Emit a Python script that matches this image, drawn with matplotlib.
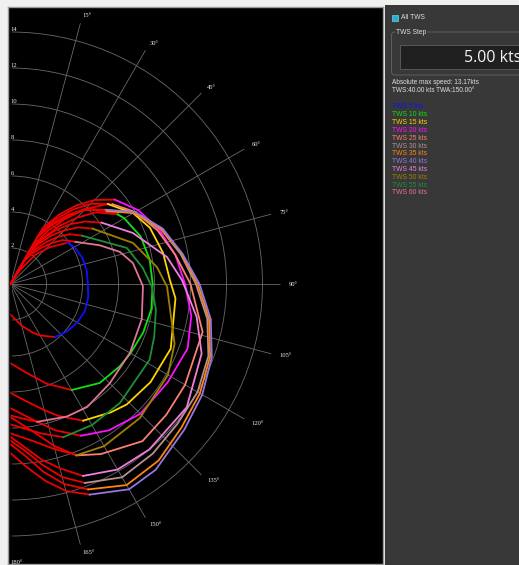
import numpy as np
import matplotlib
matplotlib.use('Agg')
import matplotlib.pyplot as plt
from matplotlib.patches import Rectangle, FancyBboxPatch

# ---------------- data (TWA in degrees, boat speed in kts) ----------------
tws_labels = ["TWS 5 kts", "TWS 10 kts", "TWS 15 kts", "TWS 20 kts", "TWS 25 kts", "TWS 30 kts",
              "TWS 35 kts", "TWS 40 kts", "TWS 45 kts", "TWS 50 kts", "TWS 55 kts", "TWS 60 kts"]
tws_colors = ['#1010ff', '#10e010', '#ffd400', '#ff10ff', '#fa8072', '#b89090',
              '#ff8410', '#9378e0', '#ee80dc', '#a08000', '#1f8f35', '#e07595']

twa_5 = [0, 30, 35, 40, 47, 54, 60, 70, 80, 90, 100, 110, 120, 130, 140, 150, 155, 165, 180]
spd_5 = [0, 0.3, 1.0, 2.1, 3.0, 3.9, 4.1, 4.25, 4.3, 4.3, 4.38, 4.4, 4.28, 4.1, 3.85, 3.3, 3.0, 2.4, 1.7]

twa_10 = [0, 30, 35, 40, 45, 50, 57, 60, 70, 80, 90, 100, 110, 120, 127, 138, 150, 160, 170, 180]
spd_10 = [0, 2.0, 3.1, 4.2, 5.2, 6.2, 7.1, 7.3, 7.7, 7.85, 7.9, 7.95, 7.85, 7.7, 7.6, 7.4, 6.8, 5.9, 5.0, 4.4]

twa_15 = [0, 30, 35, 40, 45, 50.6, 60, 68, 78.5, 88.6, 95, 112, 125, 136, 142, 152, 160, 165.5, 172, 180]
spd_15 = [0, 2.4, 3.6, 4.7, 5.9, 7.0, 7.87, 8.35, 8.65, 8.86, 9.2, 9.6, 9.5, 9.3, 9.05, 8.6, 7.8, 7.2, 6.6, 6.05]

twa_20 = [0, 30, 35, 40, 45, 51, 60, 70, 80, 90, 100, 110, 122, 135, 146, 155, 163, 171, 180]
spd_20 = [0, 3.6, 4.7, 5.7, 6.6, 7.45, 8.2, 8.8, 9.3, 9.7, 10.2, 10.47, 10.3, 10.2, 9.8, 9.3, 8.5, 7.6, 6.9]

twa_25 = [0, 30, 35, 40, 45, 52, 60, 70, 80, 90, 104, 120, 130, 140, 152, 159, 165, 172, 180]
spd_25 = [0, 3.3, 4.4, 5.4, 6.3, 7.2, 8.0, 8.7, 9.3, 10.0, 11.0, 11.2, 11.3, 11.4, 10.7, 10.2, 9.3, 8.2, 7.4]

twa_30 = [0, 30, 35, 40, 45, 53, 60, 70, 80, 90, 100, 110, 120, 130, 140, 150, 159.5, 165, 170, 175, 180]
spd_30 = [0, 3.1, 4.1, 5.0, 5.9, 6.8, 7.9, 8.9, 9.6, 10.3, 11.1, 11.7, 12.0, 12.1, 12.3, 12.4, 11.8, 11.1, 10.2, 9.3, 8.7]

twa_35 = [0, 30, 35, 40, 45, 53, 60, 70, 80, 90, 100, 110, 120, 130, 140, 150, 159.3, 165, 170, 175, 180]
spd_35 = [0, 3.1, 4.1, 5.0, 5.9, 6.7, 7.9, 8.93, 9.65, 10.4, 11.2, 11.8, 12.15, 12.4, 12.8, 12.9, 12.2, 11.5, 10.6, 9.6, 8.9]

twa_40 = [0, 30, 35, 40, 45, 52, 60, 70, 80, 90, 100, 110, 120, 130, 142, 150, 159.4, 165, 170, 175, 180]
spd_40 = [0, 3.0, 4.0, 4.9, 5.8, 6.7, 8.0, 9.0, 9.7, 10.5, 11.3, 11.9, 12.3, 12.6, 13.1, 13.17, 12.5, 11.9, 11.1, 10.2, 9.4]

twa_45 = [0, 30, 35, 40, 45, 50, 56, 67.4, 80.2, 88.7, 100, 110, 125, 140, 150, 159.3, 165, 170, 175, 180]
spd_45 = [0, 2.2, 3.0, 3.9, 4.7, 5.4, 6.1, 7.37, 8.82, 9.53, 10.5, 11.3, 11.95, 12.0, 11.9, 11.4, 10.6, 9.9, 9.1, 8.5]

twa_50 = [0, 30, 35, 40, 45, 50, 56, 71.5, 83.4, 91, 110, 120, 136, 150, 158.7, 165, 172, 180]
spd_50 = [0, 1.9, 2.7, 3.5, 4.2, 4.9, 5.5, 7.18, 8.19, 8.7, 9.7, 10.1, 10.35, 10.4, 10.2, 9.5, 8.8, 8.3]

twa_55 = [0, 30, 35, 40, 45, 50, 56, 72.8, 83, 91.2, 100, 110, 118.6, 137.4, 150, 161, 168, 174, 180]
spd_55 = [0, 1.6, 2.3, 3.0, 3.7, 4.3, 4.8, 6.77, 7.4, 7.86, 8.2, 8.5, 8.8, 8.98, 9.05, 9.0, 8.5, 8.1, 7.8]

twa_60 = [0, 30, 35, 40, 45, 50, 57, 66.5, 73.7, 80.3, 91, 105, 120, 135, 148, 157, 169, 175, 180]
spd_60 = [0, 1.4, 2.0, 2.6, 3.2, 3.8, 4.3, 5.4, 6.34, 6.9, 7.36, 7.55, 7.66, 7.8, 8.05, 8.0, 7.8, 7.5, 7.3]

# TWA range drawn in the TWS colour (outside it the curve is drawn red)
color_from = [54, 57, 50.6, 51, 52, 53, 53, 52, 56, 56, 56, 57]
color_to = [140, 150, 152, 155, 159, 159.5, 159.3, 159.4, 159.3, 158.7, 161, 169]

ring_values = [2, 4, 6, 8, 10, 12, 14]
spoke_angles = list(range(0, 181, 15))
max_speed_text = "Absolute max speed: 13.17kts"
max_info_text = "TWS:40.00 kts TWA:150.00°"
step_text = "5.00 kts"

all_twa = [twa_5, twa_10, twa_15, twa_20, twa_25, twa_30, twa_35, twa_40, twa_45, twa_50, twa_55, twa_60]
all_spd = [spd_5, spd_10, spd_15, spd_20, spd_25, spd_30, spd_35, spd_40, spd_45, spd_50, spd_55, spd_60]

# ---------------- figure ----------------
W, H = 519, 565
fig = plt.figure(figsize=(W / 100, H / 100), dpi=100)
fig.patch.set_facecolor('#f0f0f0')


def fx(x):
    return x / W


def fy(y):
    return 1 - y / H


# black plot area
bg = fig.add_axes([fx(7.5), fy(563.5), (383 - 7.5) / W, (563.5 - 6.5) / H])
bg.set_facecolor('black')
bg.set_xticks([])
bg.set_yticks([])
for sp in bg.spines.values():
    sp.set_color('#9a9a9a')
    sp.set_linewidth(1.0)

# right panel
fig.add_artist(Rectangle((fx(385), 0), 1 - fx(385), fy(5), transform=fig.transFigure,
                         facecolor='#383838', edgecolor='none', zorder=0))

# polar axes: the half-disc wedge is fitted centred inside a square box
ox, oy = 10.5, 284.0
R = 15.0
S = 18.0
D = 2 * R * S
ax = fig.add_axes([fx(ox - R * S / 2), fy(oy + R * S), D / W, D / H], projection='polar')
ax.set_facecolor('none')
ax.set_theta_zero_location('N')
ax.set_theta_direction(-1)
ax.set_thetamin(0)
ax.set_thetamax(180)
ax.set_rlim(0, R)
ax.set_rgrids(ring_values, labels=[''] * len(ring_values))
ax.set_thetagrids(spoke_angles, labels=[''] * len(spoke_angles))
ax.grid(True, color='#6a6a6a', linewidth=0.6)
for sp in ax.spines.values():
    sp.set_visible(False)
ax.tick_params(length=0)

lab_font = dict(family='Liberation Serif', fontsize=4.7, color='#ececec')
for r in ring_values:
    ax.text(0, r, str(r), ha='left', va='bottom', clip_on=False, **lab_font)
for a in spoke_angles[1:]:
    ax.text(np.deg2rad(a), 15.45, f"{a}°", ha='left', va='center', clip_on=False, **lab_font)

RED = '#ee0000'
LW = 1.3
for twa, spd, c, a, b in zip(all_twa, all_spd, tws_colors, color_from, color_to):
    t = np.array(twa, dtype=float)
    s = np.array(spd, dtype=float)
    th = np.deg2rad(t)
    m1 = t <= a
    m2 = (t >= a) & (t <= b)
    m3 = t >= b
    ax.plot(th[m1], s[m1], color=RED, lw=LW, solid_joinstyle='round', zorder=3)
    ax.plot(th[m3], s[m3], color=RED, lw=LW, solid_joinstyle='round', zorder=3)
    ax.plot(th[m2], s[m2], color=c, lw=LW, solid_joinstyle='round', zorder=4)

# ---------------- right panel widgets ----------------
ui = dict(family='Liberation Sans', color='#e0e0e0')
fig.add_artist(Rectangle((fx(392), fy(20.5)), 6 / W, 6 / H, transform=fig.transFigure,
                         facecolor='#1cb3d6', edgecolor='#9adbe9', lw=0.4))
fig.text(fx(401), fy(17.5), "All TWS", ha='left', va='center', fontsize=4.8, **ui)

fig.add_artist(FancyBboxPatch((fx(391.5), fy(75)), (530 - 391.5) / W, (75 - 32) / H,
                              boxstyle='round,pad=0,rounding_size=0.006', transform=fig.transFigure,
                              facecolor='none', edgecolor='#5e5e5e', lw=0.7))
fig.text(fx(396), fy(32), "TWS Step", ha='left', va='center', fontsize=4.8,
         bbox=dict(facecolor='#383838', edgecolor='none', pad=0.6), **ui)
fig.add_artist(Rectangle((fx(399.5), fy(68.5)), (530 - 399.5) / W, (68.5 - 45) / H,
                         transform=fig.transFigure, facecolor='#202020', edgecolor='#575757', lw=0.7))
fig.text(fx(464), fy(57.5), step_text, ha='left', va='center', fontsize=11.5, family='Open Sans',
         color='#f2f2f2')

fig.text(fx(391.5), fy(82.5), max_speed_text, ha='left', va='center', fontsize=4.7, **ui)
fig.text(fx(391.5), fy(91), max_info_text, ha='left', va='center', fontsize=4.7, **ui)

for i, (lab, c) in enumerate(zip(tws_labels, tws_colors)):
    fig.text(fx(391.5), fy(107 + 7.8 * i), lab, ha='left', va='center', fontsize=4.9,
             family='Liberation Sans', color=c)

fig.savefig('out.png', dpi=100, facecolor=fig.get_facecolor())
